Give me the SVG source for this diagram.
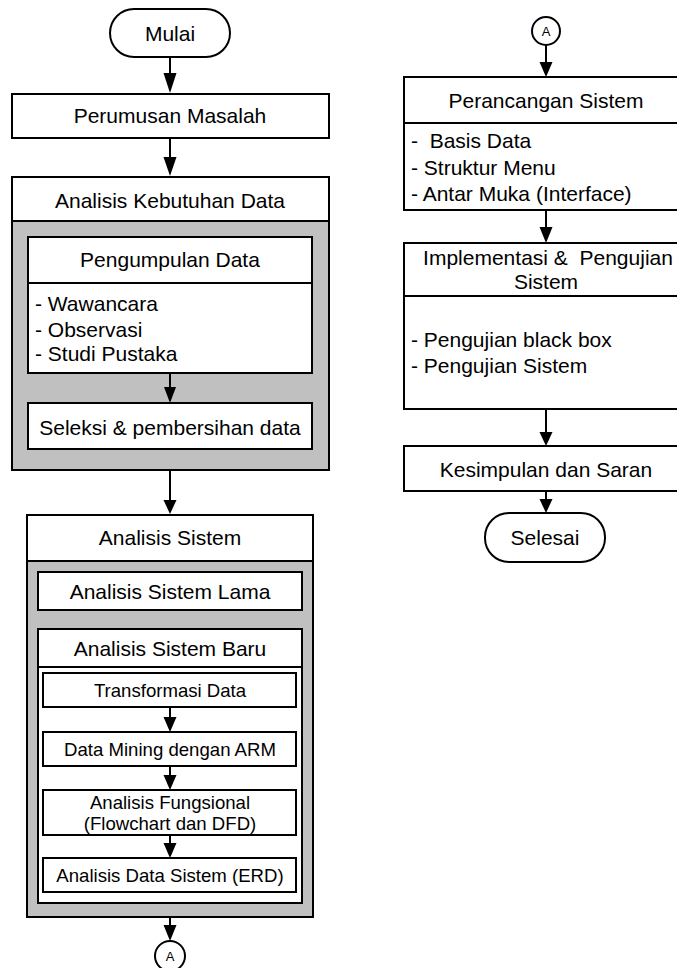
<svg xmlns="http://www.w3.org/2000/svg" width="677" height="968" viewBox="0 0 677 968">
<style>
.b{fill:#fff;stroke:#000;stroke-width:2}
.g{fill:#c0c0c0;stroke:#000;stroke-width:2}
.t{font-family:"Liberation Sans",Arial,sans-serif;font-size:21px;fill:#000}
.s{font-family:"Liberation Sans",Arial,sans-serif;font-size:18.6px;fill:#000}
.c{font-family:"Liberation Sans",Arial,sans-serif;font-size:13px;fill:#000}
.m{text-anchor:middle}
.ln{stroke:#000;stroke-width:2;fill:none}
.ah{fill:#000;stroke:none}
</style>
<rect width="677" height="968" fill="#fff"/>
<g id="mulai"><rect class="b" x="110" y="9" width="120" height="48" rx="24"/><text class="t m" x="170" y="41">Mulai</text></g>
<g id="perumusan"><rect class="b" x="12" y="94" width="317" height="44"/><text class="t m" x="170" y="123">Perumusan Masalah</text></g>
<g id="kebutuhan">
<rect class="g" x="12" y="177" width="317" height="293"/>
<rect class="b" x="12" y="177" width="317" height="44"/>
<text class="t m" x="170" y="208">Analisis Kebutuhan Data</text>
</g>
<g id="pengumpulan">
<rect class="b" x="28" y="237" width="284" height="136"/>
<line class="ln" x1="28" y1="283" x2="312" y2="283"/>
<text class="t m" x="170" y="267">Pengumpulan Data</text>
<text class="t" x="35" y="311">- Wawancara</text>
<text class="t" x="35" y="337">- Observasi</text>
<text class="t" x="35" y="361">- Studi Pustaka</text>
</g>
<g id="seleksi"><rect class="b" x="28" y="403" width="284" height="46"/><text class="t m" x="170" y="435">Seleksi &amp; pembersihan data</text></g>
<g id="analisis-sistem">
<rect class="g" x="27" y="515" width="286" height="402"/>
<rect class="b" x="27" y="515" width="286" height="46"/>
<text class="t m" x="170" y="545">Analisis Sistem</text>
</g>
<g id="lama"><rect class="b" x="38" y="572" width="264" height="38"/><text class="t m" x="170" y="599">Analisis Sistem Lama</text></g>
<g id="baru">
<rect class="b" x="38" y="629" width="264" height="274"/>
<line class="ln" x1="38" y1="667" x2="302" y2="667"/>
<text class="t m" x="170" y="656">Analisis Sistem Baru</text>
</g>
<g id="transformasi"><rect class="b" x="43" y="673" width="253" height="34"/><text class="s m" x="170" y="697">Transformasi Data</text></g>
<g id="mining"><rect class="b" x="43" y="732" width="253" height="34"/><text class="s m" x="170" y="756">Data Mining dengan ARM</text></g>
<g id="fungsional"><rect class="b" x="43" y="790" width="253" height="45"/><text class="s m" x="170" y="809">Analisis Fungsional</text><text class="s m" x="170" y="830">(Flowchart dan DFD)</text></g>
<g id="erd"><rect class="b" x="43" y="858" width="253" height="34"/><text class="s m" x="170" y="882">Analisis Data Sistem (ERD)</text></g>
<g id="conn-a1"><circle class="b" cx="170" cy="956" r="15"/><text class="c m" x="170" y="961">A</text></g>
<g id="conn-a2"><circle class="b" cx="546" cy="31" r="14"/><text class="c m" x="546" y="36">A</text></g>
<g id="perancangan">
<rect class="b" x="404" y="77" width="290" height="133"/>
<line class="ln" x1="404" y1="123" x2="694" y2="123"/>
<text class="t m" x="546" y="108">Perancangan Sistem</text>
<text class="t" x="411" y="148" xml:space="preserve">-  Basis Data</text>
<text class="t" x="411" y="175">- Struktur Menu</text>
<text class="t" x="411" y="201">- Antar Muka (Interface)</text>
</g>
<g id="implementasi">
<rect class="b" x="404" y="243" width="290" height="166"/>
<line class="ln" x1="404" y1="296" x2="694" y2="296"/>
<text class="t m" x="548" y="265" xml:space="preserve">Implementasi &amp;  Pengujian</text>
<text class="t m" x="546" y="289">Sistem</text>
<text class="t" x="411" y="347">- Pengujian black box</text>
<text class="t" x="411" y="373">- Pengujian Sistem</text>
</g>
<g id="kesimpulan"><rect class="b" x="404" y="446" width="290" height="45"/><text class="t m" x="546" y="477">Kesimpulan dan Saran</text></g>
<g id="selesai"><rect class="b" x="485" y="513" width="120" height="49" rx="24"/><text class="t m" x="545" y="545">Selesai</text></g>
<g id="connectors">
<line class="ln" x1="170" y1="57" x2="170" y2="75"/><polygon class="ah" points="163.5,73 176.5,73 170,93"/>
<line class="ln" x1="170" y1="138" x2="170" y2="159"/><polygon class="ah" points="163.5,157 176.5,157 170,176"/>
<line class="ln" x1="170" y1="373" x2="170" y2="389"/><polygon class="ah" points="164,387 176,387 170,403"/>
<line class="ln" x1="170" y1="470" x2="170" y2="502"/><polygon class="ah" points="163.5,500 176.5,500 170,514"/>
<line class="ln" x1="170" y1="707" x2="170" y2="719"/><polygon class="ah" points="163.5,717 176.5,717 170,732"/>
<line class="ln" x1="170" y1="766" x2="170" y2="777"/><polygon class="ah" points="163.5,775 176.5,775 170,790"/>
<line class="ln" x1="170" y1="835" x2="170" y2="845"/><polygon class="ah" points="163.5,843 176.5,843 170,858"/>
<line class="ln" x1="170" y1="917" x2="170" y2="927"/><polygon class="ah" points="163.5,925 176.5,925 170,941"/>
<line class="ln" x1="546" y1="45" x2="546" y2="64"/><polygon class="ah" points="539.5,62 552.5,62 546,77"/>
<line class="ln" x1="546" y1="210" x2="546" y2="229"/><polygon class="ah" points="539.5,227 552.5,227 546,243"/>
<line class="ln" x1="546" y1="409" x2="546" y2="434"/><polygon class="ah" points="539.5,432 552.5,432 546,446"/>
<line class="ln" x1="546" y1="491" x2="546" y2="501"/><polygon class="ah" points="539.5,499 552.5,499 546,513"/>
</g>
</svg>
